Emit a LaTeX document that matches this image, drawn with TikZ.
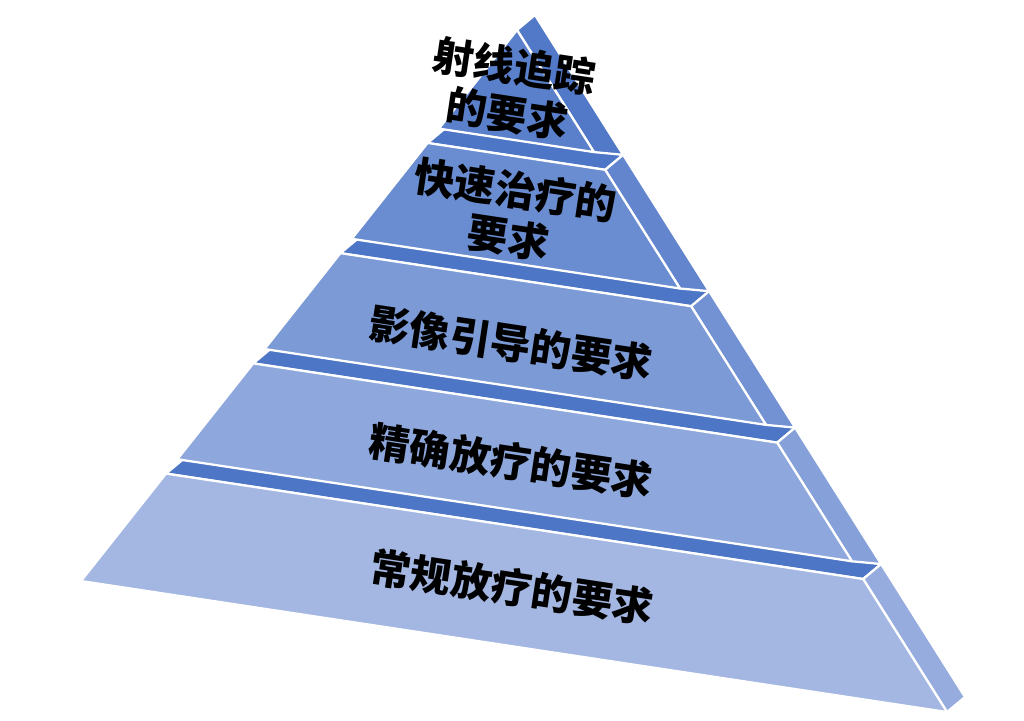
\documentclass[tikz,border=0pt]{standalone}
\usepackage{fontspec}
\usepackage{tikz}
\usetikzlibrary{calc}
\newfontfamily\cjk{Noto Sans CJK SC}
\definecolor{f1}{HTML}{A4B7E2}
\definecolor{f2}{HTML}{8EA8DD}
\definecolor{f3}{HTML}{7B9AD6}
\definecolor{f4}{HTML}{6A8CD0}
\definecolor{f5}{HTML}{5A80CB}
\definecolor{s1}{HTML}{96ACDE}
\definecolor{s2}{HTML}{86A1DA}
\definecolor{s3}{HTML}{7392D3}
\definecolor{s4}{HTML}{6285CD}
\definecolor{s5}{HTML}{5279C8}
\definecolor{ledgec}{HTML}{4E76C7}
\tikzset{
  face/.style={draw=white,line width=1.6pt,line join=round},
  ledge/.style={face,fill=ledgec},
  lbl/.style={font=\cjk\bfseries\fontsize{29}{34}\selectfont,align=center,rotate=-8.6,inner sep=0pt},
}

\begin{document}
\begin{tikzpicture}[x=0.25mm,y=-0.25mm]
\useasboundingbox (0,0) rectangle (1024,720);
\coordinate (apex) at (517,30);
\coordinate (bl) at (81,581);
\coordinate (br) at (947,712);
% ---- ledges (top faces between the layers) ----
\foreach \t in {0.195,0.395,0.595,0.795}{
  \filldraw[ledge] ($(bl)!\t!(apex)$) -- ($(br)!\t!(apex)$) -- ($(br)!\t!(apex)+(18,-15)$) -- ($(bl)!\t!(apex)+(18,-15)$) -- cycle;
}
% ---- layers, bottom to top ----
\foreach \b/\p/\t/\fc/\sc in {0/0/0.195/f1/s1, 0.221/0.195/0.395/f2/s2, 0.421/0.395/0.595/f3/s3, 0.621/0.595/0.795/f4/s4, 0.821/0.795/1/f5/s5}{
  \filldraw[face,fill=\sc] ($(br)!\b!(apex)$) -- ($(br)!\p!(apex)+(18,-15)$) -- ($(br)!\t!(apex)+(18,-15)$) -- ($(br)!\t!(apex)$) -- cycle;
  \filldraw[face,fill=\fc] ($(bl)!\b!(apex)$) -- ($(br)!\b!(apex)$) -- ($(br)!\t!(apex)$) -- ($(bl)!\t!(apex)$) -- cycle;
}
% ---- labels ----
\node[lbl] (lbl1) at (512,587) {常规放疗的要求};
\node[lbl] (lbl2) at (511,461) {精确放疗的要求};
\node[lbl] (lbl3) at (511,343) {影像引导的要求};
\node[lbl] (lbl4) at (512,214) {快速治疗的\\要求};
\node[lbl] (lbl5) at (511,90) {射线追踪\\的要求};
\end{tikzpicture}
\end{document}
